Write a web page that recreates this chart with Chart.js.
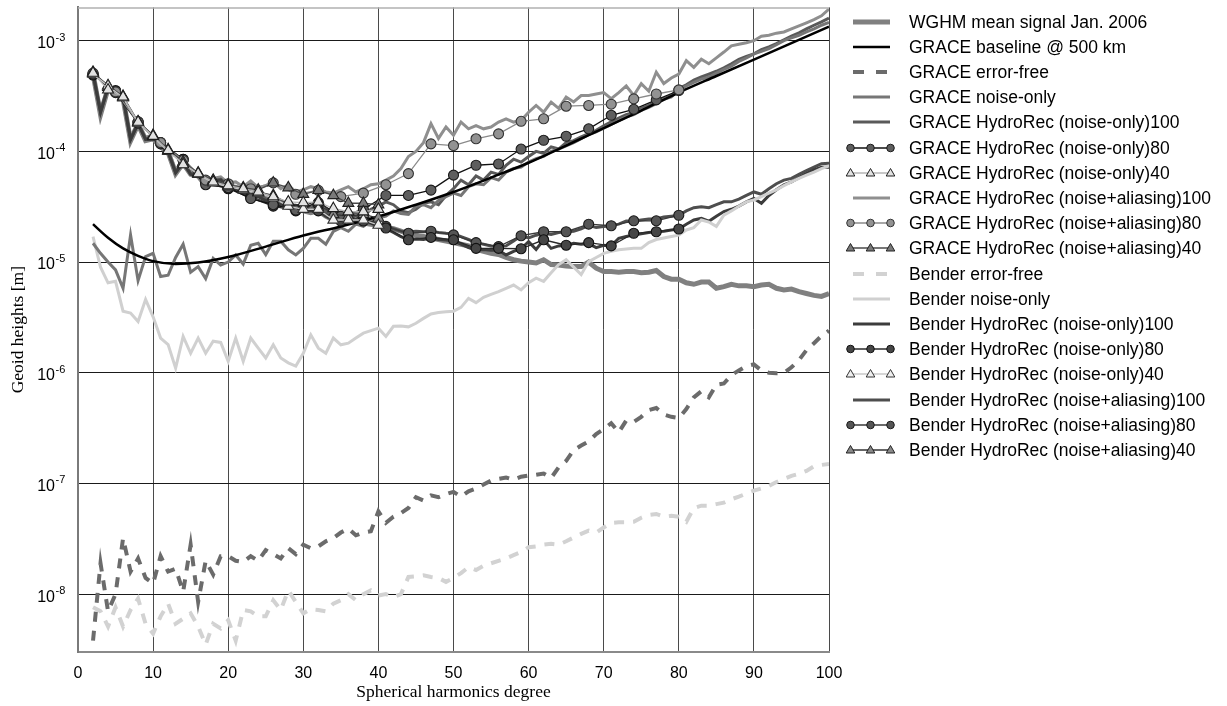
<!DOCTYPE html>
<html><head><meta charset="utf-8">
<script src="https://cdn.jsdelivr.net/npm/chart.js@4.4.1/dist/chart.umd.min.js"></script>
<style>
html,body{margin:0;padding:0;background:#fff;}
#wrap{position:relative;width:1227px;height:706px;overflow:hidden;}
#c{position:absolute;left:0;top:0;}
#legend{position:absolute;left:0;top:0;width:1227px;height:706px;font-family:"Liberation Sans",Arial,sans-serif;font-size:17.5px;color:#000;pointer-events:none;}
.row{position:absolute;left:845px;height:24px;display:flex;align-items:center;white-space:nowrap;}
.row svg{flex:none;display:block;}
.row span{margin-left:12px;line-height:24px;}
</style></head>
<body><div id="wrap"><canvas id="c" width="1227" height="706"></canvas><div id="legend"></div></div>
<script>
// ---------------- data ----------------
const xTicks = [0,10,20,30,40,50,60,70,80,90,100];
const yTickExps = [-8,-7,-6,-5,-4,-3];

const degAll = [2,3,4,5,6,7,8,9,10,11,12,13,14,15,16,17,18,19,20,21,22,23,24,25,26,27,28,29,30,31,32,33,34,35,36,37,38,39,40,41,42,43,44,45,46,47,48,49,50,51,52,53,54,55,56,57,58,59,60,61,62,63,64,65,66,67,68,69,70,71,72,73,74,75,76,77,78,79,80,81,82,83,84,85,86,87,88,89,90,91,92,93,94,95,96,97,98,99,100];
const deg80 = [2,5,8,11,14,17,20,23,26,29,32,35,38,41,44,47,50,53,56,59,62,65,68,71,74,77,80];
const deg40 = [2,4,6,8,10,12,14,16,18,20,22,24,26,28,30,32,34,36,38,40];
const degBase = [2,4,6,8,10,13,16,20,25,30,35,40,45,50,55,60,65,70,75,80,85,90,95,100];

const wghm = [
 5.0e-4,2.15e-4,3.7e-4,3.3e-4,3.0e-4,1.25e-4,1.75e-4,1.25e-4,1.3e-4,1.1e-4,
 9.8e-5,6.3e-5,7.8e-5,6.2e-5,6.0e-5,4.9e-5,5.2e-5,5.4e-5,4.8e-5,4.7e-5,
 4.5e-5,4.2e-5,4.0e-5,3.9e-5,3.6e-5,3.5e-5,3.2e-5,3.0e-5,2.9e-5,2.8e-5,
 2.9e-5,2.6e-5,2.4e-5,2.4e-5,2.35e-5,2.3e-5,2.25e-5,2.2e-5,2.1e-5,2.05e-5,
 2.0e-5,1.9e-5,1.8e-5,1.75e-5,1.7e-5,1.65e-5,1.6e-5,1.55e-5,1.5e-5,1.45e-5,
 1.4e-5,1.3e-5,1.25e-5,1.2e-5,1.17e-5,1.1e-5,1.05e-5,1.02e-5,1.0e-5,9.8e-6,
 1.05e-5,9.5e-6,9.4e-6,9.2e-6,9.1e-6,9.1e-6,1.0e-5,8.8e-6,8.2e-6,8.2e-6,
 8.1e-6,8.2e-6,8.2e-6,8.0e-6,8.1e-6,8.4e-6,7.4e-6,7.0e-6,7.0e-6,6.5e-6,
 6.3e-6,6.6e-6,6.6e-6,5.8e-6,6.0e-6,6.3e-6,6.1e-6,6.1e-6,6.0e-6,6.2e-6,
 6.3e-6,5.8e-6,5.6e-6,5.7e-6,5.4e-6,5.2e-6,5.0e-6,4.9e-6,5.2e-6];

const baseline = [2.2e-5,1.66e-5,1.33e-5,1.14e-5,1.02e-5,9.6e-6,9.9e-6,1.11e-5,1.38e-5,1.74e-5,2.1e-5,2.58e-5,3.3e-5,4.3e-5,5.8e-5,7.9e-5,1.13e-4,1.62e-4,2.34e-4,3.4e-4,4.8e-4,6.76e-4,9.5e-4,1.34e-3];

const graceErrFree = [
 3.8e-9,1.9e-8,7e-9,1.0e-8,3.2e-8,1.6e-8,2.1e-8,1.4e-8,1.25e-8,2.2e-8,
 1.6e-8,1.7e-8,1.05e-8,2.8e-8,8.5e-9,2.0e-8,1.5e-8,2.2e-8,2.2e-8,2.0e-8,
 1.95e-8,2.2e-8,2.0e-8,2.5e-8,2.3e-8,2.1e-8,2.6e-8,2.3e-8,2.8e-8,2.6e-8,
 2.7e-8,3.0e-8,3.2e-8,3.6e-8,3.9e-8,3.4e-8,3.6e-8,3.7e-8,5.6e-8,4.4e-8,
 5.0e-8,5.4e-8,6.0e-8,7.5e-8,7.0e-8,7.8e-8,7.5e-8,8.0e-8,8.4e-8,7.6e-8,
 8.5e-8,9.0e-8,9.8e-8,1.06e-7,1.1e-7,1.13e-7,1.08e-7,1.15e-7,1.18e-7,1.2e-7,
 1.23e-7,1.12e-7,1.4e-7,1.6e-7,2.0e-7,2.2e-7,2.4e-7,2.8e-7,3.1e-7,3.5e-7,
 2.9e-7,3.7e-7,3.6e-7,4.0e-7,4.6e-7,4.8e-7,4.2e-7,4.0e-7,3.9e-7,4.7e-7,
 6.0e-7,6.8e-7,6.0e-7,7.8e-7,8.0e-7,9.5e-7,1.05e-6,1.15e-6,1.19e-6,1.05e-6,
 1.0e-6,9.9e-7,1.0e-6,1.12e-6,1.3e-6,1.6e-6,1.85e-6,2.15e-6,2.4e-6];

const graceNoise = [
 1.48e-5,1.2e-5,1.0e-5,8.5e-6,5.8e-6,1.76e-5,6.8e-6,1.12e-5,1.2e-5,7.4e-6,
 7.6e-6,1.1e-5,1.45e-5,8.1e-6,9.1e-6,7.1e-6,1.08e-5,9.4e-6,1.0e-5,1.16e-5,
 9.6e-6,1.42e-5,1.48e-5,1.17e-5,1.54e-5,1.54e-5,1.29e-5,1.16e-5,1.33e-5,1.64e-5,
 1.64e-5,1.45e-5,1.89e-5,2.05e-5,1.9e-5,2.2e-5,2.1e-5,2.4e-5,2.5e-5,2.6e-5,
 2.9e-5,2.75e-5,2.7e-5,3.2e-5,3.3e-5,3.1e-5,3.6e-5,3.9e-5,4.2e-5,4.0e-5,
 4.8e-5,5.1e-5,5.0e-5,5.8e-5,5.5e-5,6.5e-5,7.0e-5,7.2e-5,8.0e-5,8.6e-5,
 9.0e-5,1.0e-4,1.05e-4,1.12e-4,1.2e-4,1.3e-4,1.42e-4,1.5e-4,1.62e-4,1.75e-4,
 1.9e-4,2.05e-4,2.15e-4,2.35e-4,2.5e-4,2.7e-4,2.95e-4,3.1e-4,3.6e-4,3.9e-4,
 4.2e-4,4.5e-4,4.7e-4,5.1e-4,5.5e-4,5.9e-4,6.5e-4,7.0e-4,7.6e-4,8.0e-4,
 8.5e-4,9.2e-4,1.0e-3,1.06e-3,1.12e-3,1.2e-3,1.28e-3,1.38e-3,1.46e-3];

const graceHRno100 = [
 5.1e-4,2.3e-4,3.8e-4,3.3e-4,3.1e-4,1.3e-4,1.8e-4,1.3e-4,1.35e-4,1.15e-4,
 1.0e-4,6.5e-5,8.0e-5,6.3e-5,6.2e-5,5.1e-5,5.4e-5,5.6e-5,4.9e-5,4.6e-5,
 4.3e-5,4.0e-5,4.1e-5,3.7e-5,3.5e-5,3.6e-5,3.2e-5,3.1e-5,3.3e-5,3.0e-5,
 3.4e-5,2.9e-5,2.7e-5,2.8e-5,2.6e-5,2.8e-5,2.6e-5,3.0e-5,3.2e-5,3.5e-5,
 3.3e-5,2.9e-5,2.8e-5,3.0e-5,3.4e-5,3.5e-5,3.3e-5,4.0e-5,4.6e-5,5.5e-5,
 5.0e-5,6.0e-5,5.5e-5,6.5e-5,6.2e-5,7.5e-5,8.5e-5,8.0e-5,9.0e-5,1.0e-4,
 9.6e-5,1.1e-4,1.05e-4,1.2e-4,1.25e-4,1.35e-4,1.45e-4,1.55e-4,1.7e-4,1.85e-4,
 2.0e-4,2.15e-4,2.25e-4,2.45e-4,2.6e-4,2.8e-4,3.0e-4,3.2e-4,3.7e-4,4.0e-4,
 4.4e-4,4.7e-4,5.0e-4,5.3e-4,5.7e-4,6.2e-4,6.8e-4,7.2e-4,7.6e-4,8.3e-4,
 8.8e-4,9.4e-4,1.02e-3,1.1e-3,1.18e-3,1.28e-3,1.38e-3,1.48e-3,1.6e-3];

const graceHRno80 = [5.0e-4,3.4e-4,1.8e-4,1.17e-4,8.3e-5,5.0e-5,4.7e-5,3.75e-5,3.3e-5,2.95e-5,3.45e-5,2.6e-5,3.0e-5,4.0e-5,4.0e-5,4.47e-5,6.1e-5,7.5e-5,7.7e-5,1.05e-4,1.26e-4,1.37e-4,1.6e-4,2.12e-4,2.4e-4,2.92e-4,3.55e-4];
const graceHRno40 = [5.1e-4,3.6e-4,3.1e-4,1.84e-4,1.37e-4,1.02e-4,7.6e-5,6.3e-5,5.3e-5,4.9e-5,4.6e-5,4.3e-5,3.9e-5,3.5e-5,3.45e-5,3.5e-5,3.05e-5,2.85e-5,2.85e-5,3.0e-5];

const graceHRna100 = [
 5.2e-4,2.4e-4,3.9e-4,3.4e-4,3.2e-4,1.35e-4,1.85e-4,1.35e-4,1.4e-4,1.2e-4,
 1.05e-4,6.8e-5,8.4e-5,6.6e-5,6.5e-5,5.4e-5,5.7e-5,5.9e-5,5.2e-5,5.3e-5,
 4.8e-5,5.4e-5,4.7e-5,4.9e-5,5.3e-5,4.6e-5,5.0e-5,4.3e-5,4.5e-5,4.8e-5,
 4.6e-5,4.3e-5,4.2e-5,4.5e-5,4.8e-5,4.3e-5,4.6e-5,5.0e-5,5.1e-5,5.5e-5,
 6.0e-5,7.0e-5,9.0e-5,1.0e-4,1.2e-4,1.78e-4,1.31e-4,1.66e-4,1.4e-4,1.84e-4,
 1.6e-4,1.71e-4,1.6e-4,1.66e-4,1.84e-4,1.97e-4,1.84e-4,1.9e-4,2.26e-4,2.6e-4,
 2.26e-4,2.79e-4,2.45e-4,3.1e-4,2.8e-4,3.2e-4,3.2e-4,3.3e-4,3.4e-4,3.0e-4,
 3.4e-4,3.9e-4,3.2e-4,4.1e-4,3.5e-4,5.2e-4,4.1e-4,4.6e-4,5.0e-4,6.6e-4,
 5.75e-4,6.8e-4,6.2e-4,7.0e-4,7.9e-4,9.0e-4,9.3e-4,9.6e-4,1.0e-3,1.1e-3,
 1.12e-3,1.17e-3,1.2e-3,1.28e-3,1.36e-3,1.45e-3,1.55e-3,1.68e-3,1.93e-3];

const graceHRna80 = [5.1e-4,3.45e-4,1.84e-4,1.2e-4,8.3e-5,5.5e-5,5.1e-5,4.6e-5,5.2e-5,4.1e-5,4.45e-5,3.9e-5,4.2e-5,5.0e-5,6.3e-5,1.17e-4,1.13e-4,1.3e-4,1.44e-4,1.87e-4,1.97e-4,2.56e-4,2.6e-4,2.67e-4,2.98e-4,3.3e-4,3.6e-4];
const graceHRna40 = [5.2e-4,3.93e-4,3.15e-4,1.86e-4,1.4e-4,1.04e-4,8.0e-5,6.4e-5,5.5e-5,5.0e-5,4.7e-5,4.5e-5,5.2e-5,4.7e-5,4.1e-5,4.45e-5,4.0e-5,3.4e-5,3.4e-5,3.3e-5];

const benderErrFree = [
 7.6e-9,7.0e-9,5.1e-9,7.6e-9,5.1e-9,7.2e-9,9.1e-9,5.4e-9,4.4e-9,6.3e-9,
 8.2e-9,5.4e-9,6.0e-9,6.7e-9,5.1e-9,3.5e-9,5.4e-9,4.9e-9,5.8e-9,3.8e-9,
 7.2e-9,7.0e-9,6.3e-9,6.3e-9,8.8e-9,7.2e-9,1.08e-8,8.5e-9,6.7e-9,7.3e-9,
 7.2e-9,7.0e-9,8.2e-9,8.8e-9,1.0e-8,8.8e-9,1.0e-8,1.08e-8,9.7e-9,1.0e-8,
 9.4e-9,1.0e-8,1.43e-8,1.45e-8,1.48e-8,1.43e-8,1.4e-8,1.29e-8,1.4e-8,1.55e-8,
 1.75e-8,1.65e-8,1.8e-8,1.9e-8,2.0e-8,2.1e-8,2.25e-8,2.4e-8,2.65e-8,2.7e-8,
 2.8e-8,2.85e-8,2.8e-8,3.0e-8,3.25e-8,3.5e-8,3.75e-8,3.6e-8,4.0e-8,4.4e-8,
 4.45e-8,4.45e-8,4.5e-8,4.9e-8,5.2e-8,5.3e-8,5.0e-8,5.1e-8,5.0e-8,4.5e-8,
 6.0e-8,6.3e-8,6.3e-8,6.5e-8,6.7e-8,7.2e-8,7.6e-8,8.1e-8,8.6e-8,9.0e-8,
 9.5e-8,1.03e-7,1.1e-7,1.17e-7,1.22e-7,1.3e-7,1.43e-7,1.47e-7,1.5e-7];

const benderNoise = [
 1.7e-5,9.0e-6,6.5e-6,6.7e-6,3.6e-6,3.46e-6,2.9e-6,4.6e-6,3.2e-6,2.06e-6,
 1.8e-6,1.1e-6,2.13e-6,1.5e-6,2.06e-6,1.5e-6,1.93e-6,1.88e-6,1.27e-6,2.06e-6,
 1.27e-6,2.06e-6,1.67e-6,1.36e-6,1.79e-6,1.36e-6,1.23e-6,1.15e-6,1.5e-6,2.2e-6,
 1.67e-6,1.5e-6,2.06e-6,1.79e-6,1.85e-6,2.06e-6,2.28e-6,2.4e-6,2.53e-6,2.13e-6,
 2.63e-6,2.65e-6,2.6e-6,2.8e-6,3.1e-6,3.4e-6,3.5e-6,3.55e-6,3.6e-6,3.9e-6,
 4.7e-6,4.3e-6,4.8e-6,5.1e-6,5.4e-6,5.8e-6,6.2e-6,5.6e-6,6.5e-6,7.15e-6,
 6.7e-6,8.0e-6,9.5e-6,1.05e-5,9.0e-6,7.7e-6,1.01e-5,1.1e-5,1.2e-5,1.25e-5,
 1.29e-5,1.31e-5,1.33e-5,1.33e-5,1.5e-5,1.6e-5,1.65e-5,1.7e-5,1.75e-5,1.95e-5,
 2.05e-5,2.4e-5,2.3e-5,2.1e-5,2.65e-5,2.9e-5,3.2e-5,3.5e-5,3.64e-5,3.9e-5,
 4.2e-5,4.5e-5,4.9e-5,5.3e-5,5.7e-5,6.1e-5,6.5e-5,7.0e-5,7.4e-5];

const benderHRno100 = [
 5.0e-4,2.25e-4,3.75e-4,3.25e-4,3.05e-4,1.28e-4,1.78e-4,1.28e-4,1.33e-4,1.13e-4,
 9.9e-5,6.4e-5,7.9e-5,6.2e-5,6.1e-5,5.0e-5,5.3e-5,5.5e-5,4.8e-5,4.6e-5,
 4.3e-5,3.9e-5,3.9e-5,3.6e-5,3.4e-5,3.3e-5,3.1e-5,2.9e-5,3.0e-5,2.9e-5,
 2.9e-5,2.6e-5,2.4e-5,2.4e-5,2.35e-5,2.4e-5,2.3e-5,2.25e-5,2.1e-5,2.0e-5,
 1.85e-5,1.7e-5,1.59e-5,1.62e-5,1.6e-5,1.65e-5,1.6e-5,1.58e-5,1.55e-5,1.45e-5,
 1.35e-5,1.29e-5,1.3e-5,1.28e-5,1.28e-5,1.16e-5,1.25e-5,1.32e-5,1.53e-5,1.3e-5,
 1.59e-5,1.33e-5,1.4e-5,1.42e-5,1.48e-5,1.45e-5,1.47e-5,1.35e-5,1.42e-5,1.4e-5,
 1.64e-5,1.7e-5,1.76e-5,1.8e-5,1.85e-5,1.88e-5,1.9e-5,1.95e-5,1.99e-5,2.2e-5,
 2.4e-5,2.48e-5,2.34e-5,2.6e-5,2.86e-5,3.0e-5,3.2e-5,3.5e-5,3.75e-5,3.4e-5,
 4.0e-5,4.5e-5,5.0e-5,5.3e-5,5.8e-5,6.3e-5,6.8e-5,7.2e-5,7.2e-5];

const benderHRno80 = [4.9e-4,3.5e-4,1.85e-4,1.2e-4,8.5e-5,5.2e-5,4.6e-5,3.8e-5,3.2e-5,2.9e-5,2.9e-5,2.35e-5,2.35e-5,2.03e-5,1.59e-5,1.67e-5,1.59e-5,1.33e-5,1.33e-5,1.32e-5,1.59e-5,1.42e-5,1.5e-5,1.4e-5,1.82e-5,1.88e-5,1.99e-5];
const benderHRno40 = [5.0e-4,3.9e-4,3.05e-4,1.8e-4,1.35e-4,1.0e-4,7.8e-5,6.2e-5,5.2e-5,4.8e-5,4.5e-5,4.2e-5,3.8e-5,3.2e-5,3.0e-5,3.0e-5,2.4e-5,2.4e-5,2.4e-5,2.16e-5];

const benderHRna100 = [
 5.05e-4,2.3e-4,3.8e-4,3.3e-4,3.1e-4,1.3e-4,1.8e-4,1.3e-4,1.35e-4,1.15e-4,
 1.0e-4,6.5e-5,8.0e-5,6.3e-5,6.2e-5,5.1e-5,5.4e-5,5.6e-5,4.9e-5,4.7e-5,
 4.4e-5,4.0e-5,4.1e-5,3.7e-5,3.5e-5,3.5e-5,3.2e-5,3.0e-5,3.2e-5,3.0e-5,
 3.2e-5,2.8e-5,2.6e-5,2.6e-5,2.5e-5,2.6e-5,2.45e-5,2.3e-5,2.16e-5,2.1e-5,
 2.0e-5,1.9e-5,1.87e-5,1.9e-5,1.88e-5,1.9e-5,1.85e-5,1.82e-5,1.8e-5,1.7e-5,
 1.6e-5,1.5e-5,1.45e-5,1.4e-5,1.38e-5,1.4e-5,1.55e-5,1.73e-5,1.65e-5,1.75e-5,
 1.82e-5,1.78e-5,1.85e-5,1.88e-5,1.9e-5,2.0e-5,2.15e-5,2.05e-5,2.1e-5,2.13e-5,
 2.2e-5,2.35e-5,2.34e-5,2.4e-5,2.45e-5,2.45e-5,2.55e-5,2.6e-5,2.65e-5,2.9e-5,
 3.1e-5,3.16e-5,3.1e-5,3.3e-5,3.5e-5,3.5e-5,3.7e-5,4.0e-5,4.3e-5,4.1e-5,
 4.6e-5,5.1e-5,5.5e-5,5.7e-5,6.2e-5,6.7e-5,7.2e-5,7.75e-5,7.8e-5];

const benderHRna80 = [5.0e-4,3.55e-4,1.85e-4,1.2e-4,8.5e-5,5.3e-5,4.7e-5,3.9e-5,3.3e-5,3.0e-5,3.3e-5,2.5e-5,2.45e-5,2.1e-5,1.82e-5,1.9e-5,1.76e-5,1.5e-5,1.38e-5,1.73e-5,1.88e-5,1.88e-5,2.2e-5,2.13e-5,2.36e-5,2.36e-5,2.65e-5];
const benderHRna40 = [5.1e-4,3.8e-4,3.1e-4,1.82e-4,1.36e-4,1.01e-4,7.9e-5,6.3e-5,5.4e-5,4.9e-5,4.6e-5,4.3e-5,4.0e-5,3.4e-5,3.2e-5,3.6e-5,2.7e-5,2.6e-5,2.7e-5,2.5e-5];

const seriesNames = [
 'WGHM mean signal Jan. 2006',
 'GRACE baseline @ 500 km',
 'GRACE error-free',
 'GRACE noise-only',
 'GRACE HydroRec (noise-only)100',
 'GRACE HydroRec (noise-only)80',
 'GRACE HydroRec (noise-only)40',
 'GRACE HydroRec (noise+aliasing)100',
 'GRACE HydroRec (noise+aliasing)80',
 'GRACE HydroRec (noise+aliasing)40',
 'Bender error-free',
 'Bender noise-only',
 'Bender HydroRec (noise-only)100',
 'Bender HydroRec (noise-only)80',
 'Bender HydroRec (noise-only)40',
 'Bender HydroRec (noise+aliasing)100',
 'Bender HydroRec (noise+aliasing)80',
 'Bender HydroRec (noise+aliasing)40'
];
const seriesX = [degAll,degBase,degAll,degAll,degAll,deg80,deg40,degAll,deg80,deg40,degAll,degAll,degAll,deg80,deg40,degAll,deg80,deg40];
const seriesY = [wghm,baseline,graceErrFree,graceNoise,graceHRno100,graceHRno80,graceHRno40,graceHRna100,graceHRna80,graceHRna40,benderErrFree,benderNoise,benderHRno100,benderHRno80,benderHRno40,benderHRna100,benderHRna80,benderHRna40];

// ---------------- styles (z: lower value = drawn on top) ----------------
const styles = [
 {color:'#808080', width:5, z:17},
 {color:'#000000', width:2.5, smooth:true, z:8},
 {color:'#6b6b6b', width:4, dash:[10,9], z:10},
 {color:'#767676', width:3, z:9},
 {color:'#5a5a5a', width:3, z:14},
 {color:'#111111', width:1.3, marker:'circle', fill:'#5e5e5e', edge:'#1a1a1a', z:5},
 {color:'#b4b4b4', width:1.3, marker:'triangle', fill:'#e2e2e2', edge:'#1e1e1e', z:0},
 {color:'#8f8f8f', width:3, z:16},
 {color:'#8a8a8a', width:1.3, marker:'circle', fill:'#929292', edge:'#333333', z:4},
 {color:'#4a4a4a', width:1.3, marker:'triangle', fill:'#7a7a7a', edge:'#222222', z:2},
 {color:'#d2d2d2', width:4, dash:[10,9], z:11},
 {color:'#d0d0d0', width:3, z:12},
 {color:'#3c3c3c', width:3, z:13},
 {color:'#2a2a2a', width:1.3, marker:'circle', fill:'#464646', edge:'#111111', z:6},
 {color:'#c8c8c8', width:1.3, marker:'triangle', fill:'#efefef', edge:'#333333', z:1},
 {color:'#4e4e4e', width:3, z:15},
 {color:'#3a3a3a', width:1.3, marker:'circle', fill:'#555555', edge:'#1a1a1a', z:7},
 {color:'#333333', width:1.3, marker:'triangle', fill:'#8a8a8a', edge:'#222222', z:3}
];

const datasets = seriesNames.map((name,i)=>{
  const s = styles[i];
  const pts = seriesX[i].map((d,k)=>({x:d, y:seriesY[i][k]}));
  return {
    label:name, data:pts,
    borderColor:s.color, borderWidth:s.width, borderDash:s.dash||[],
    backgroundColor:s.fill||s.color,
    fill:false,
    tension:0,
    cubicInterpolationMode: s.smooth ? 'monotone' : 'default',
    pointRadius: s.marker ? (s.marker==='triangle'?6.3:5) : 0,
    pointStyle: s.marker || 'circle',
    pointBackgroundColor: s.fill || s.color,
    pointBorderColor: s.edge || s.color,
    pointBorderWidth: 1.1,
    order: s.z
  };
});

const sansFont = '"Liberation Sans", Arial, sans-serif';
const serifFont = '"Liberation Serif", "Times New Roman", serif';

const decadePlugin = {
  id:'decadeLabels',
  afterDraw(chart){
    const y = chart.scales.y, ctx = chart.ctx, a = chart.chartArea;
    ctx.save();
    ctx.fillStyle = '#000';
    yTickExps.forEach(e=>{
      const py = y.getPixelForValue(Math.pow(10,e));
      ctx.font = '16px ' + sansFont;
      ctx.textAlign = 'right'; ctx.textBaseline = 'middle';
      ctx.fillText('10', 55, py + 3);
      ctx.font = '11px ' + sansFont;
      ctx.textAlign = 'left';
      ctx.fillText('-' + Math.abs(e), 55.5, py - 3);
    });
    ctx.strokeStyle = '#b0b0b0'; ctx.lineWidth = 1.5;
    ctx.beginPath(); ctx.moveTo(a.left, a.top + 0.5); ctx.lineTo(a.right, a.top + 0.5); ctx.stroke();
    ctx.restore();
  }
};

new Chart(document.getElementById('c').getContext('2d'), {
  type:'line',
  data:{datasets},
  options:{
    responsive:false, animation:false, devicePixelRatio:1, events:[],
    layout:{padding:{left:0,right:398,top:5,bottom:0}},
    plugins:{legend:{display:false}, tooltip:{enabled:false}},
    scales:{
      x:{
        type:'linear', min:0, max:100,
        afterBuildTicks(s){ s.ticks = xTicks.map(v=>({value:v})); },
        afterFit(s){ s.height = 54; },
        grid:{color:'#4a4a4a', lineWidth:1, drawTicks:false},
        border:{color:'#8a8a8a', width:2},
        ticks:{padding:12, color:'#000', maxRotation:0, autoSkip:false, font:{family:sansFont, size:16}, callback:v=>String(v)},
        title:{display:true, text:'Spherical harmonics degree', color:'#000', font:{family:serifFont, size:17.5}, padding:{top:0,bottom:3}}
      },
      y:{
        type:'logarithmic', min:3e-9, max:2e-3,
        afterBuildTicks(s){ s.ticks = yTickExps.map(e=>({value:Math.pow(10,e)})); },
        afterFit(s){ s.width = 78; },
        grid:{color:'#1a1a1a', lineWidth:1, drawTicks:false},
        border:{color:'#7a7a7a', width:2},
        ticks:{display:false},
        title:{display:true, text:'Geoid heights [m]', color:'#000', font:{family:serifFont, size:17.5}, padding:{top:8,bottom:0}}
      }
    }
  },
  plugins:[decadePlugin]
});

// ---------------- legend (HTML) ----------------
function symbolSVG(s){
  const W = 52, H = 24, cy = 12;
  let out = `<svg width="${W}" height="${H}" xmlns="http://www.w3.org/2000/svg">`;
  if (s.marker){
    out += `<line x1="5" y1="${cy}" x2="46" y2="${cy}" stroke="${s.color}" stroke-width="1.3"/>`;
    [5.5,25.5,45.5].forEach(mx=>{
      if (s.marker==='circle') out += `<circle cx="${mx}" cy="${cy}" r="3.8" fill="${s.fill}" stroke="${s.edge}" stroke-width="1"/>`;
      else out += `<polygon points="${mx},${cy-4.5} ${mx+4.3},${cy+3} ${mx-4.3},${cy+3}" fill="${s.fill}" stroke="${s.edge}" stroke-width="1"/>`;
    });
  } else if (s.dash){
    out += `<line x1="8" y1="${cy}" x2="43" y2="${cy}" stroke="${s.color}" stroke-width="${s.width}" stroke-dasharray="11 12"/>`;
  } else {
    out += `<line x1="8" y1="${cy}" x2="45" y2="${cy}" stroke="${s.color}" stroke-width="${s.width}"/>`;
  }
  return out + '</svg>';
}
const leg = document.getElementById('legend');
seriesNames.forEach((name,i)=>{
  const row = document.createElement('div');
  row.className = 'row';
  row.style.top = (21.5 + 25.2*i - 12) + 'px';
  row.innerHTML = symbolSVG(styles[i]) + '<span>' + name + '</span>';
  leg.appendChild(row);
});
</script>
</body></html>
